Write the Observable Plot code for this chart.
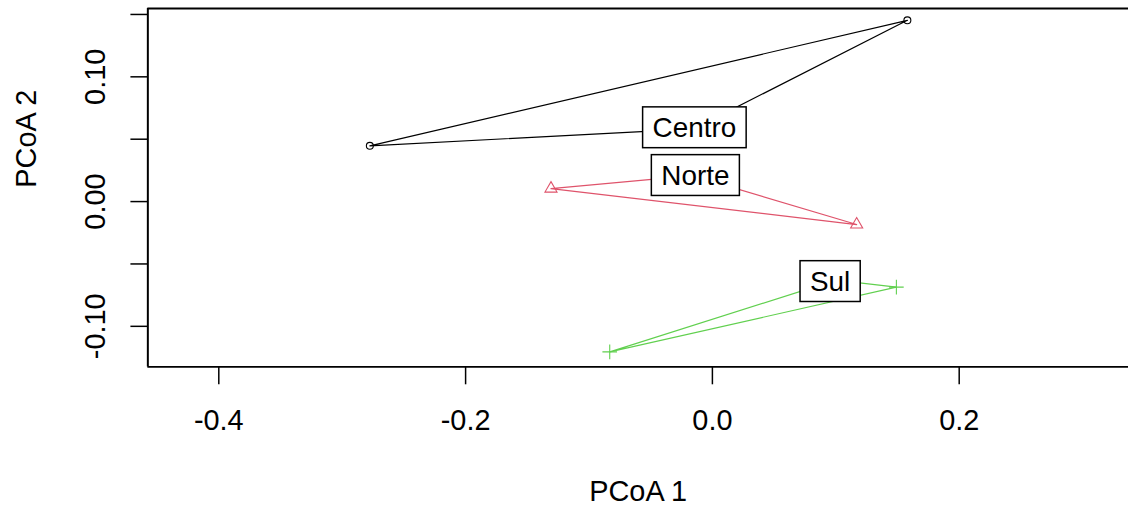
<!DOCTYPE html>
<html><head><meta charset="utf-8">
<script src="https://cdn.jsdelivr.net/npm/d3@7"></script>
<script src="https://cdn.jsdelivr.net/npm/@observablehq/plot@0.6"></script>
<style>
html,body{margin:0;padding:0;background:#fff;overflow:hidden;}
</style></head><body><div id="chart"></div>
<script>
// ---- data ----
const groups = ["Centro", "Norte", "Sul"];
const siteGroup = ["Centro", "Centro", "Centro", "Norte", "Norte", "Norte", "Sul", "Sul", "Sul"];
const siteX = [-0.2776, 0.1580, -0.0150, -0.1308, 0.1169, -0.0162, -0.0832, 0.1491, 0.1000];
const siteY = [0.0447, 0.1453, 0.0583, 0.0104, -0.0184, 0.0208, -0.1205, -0.0686, -0.0630];
const labelX = [-0.0146, -0.0138, 0.0954];
const labelY = [0.0591, 0.0208, -0.0642];
const xTicks = [-0.4, -0.2, 0.0, 0.2];
const xTickLabels = ["-0.4", "-0.2", "0.0", "0.2"];
const yTicks = [-0.10, -0.05, 0.00, 0.05, 0.10, 0.15];
const yTickLabels = ["-0.10", "", "0.00", "", "0.10", ""];
const xDomain = [-0.4575, 0.3372];
const yDomain = [-0.1325, 0.1548];
const xTitle = "PCoA 1";
const yTitle = "PCoA 2";

// ---- styles ----
const groupColors = ["#000000", "#DF536B", "#61D04F"];
const groupSymbols = ["circle", "triangle", "plus"];
const groupR = [3.5, 4.5, 4.8];
const font = "'Liberation Sans',Arial,sans-serif";

// ---- tables ----
const sites = siteX.map((x, i) => ({group: siteGroup[i], x, y: siteY[i]}));
const hullRows = groups.flatMap(g => {
  const pts = sites.filter(d => d.group === g).map(d => [d.x, d.y]);
  const hull = d3.polygonHull(pts);
  return hull.concat([hull[0]]).map(([x, y]) => ({group: g, x, y}));
});
const labels = groups.map((g, i) => ({group: g, x: labelX[i], y: labelY[i]}));

const plot = Plot.plot({
  width: 1134, height: 510,
  marginLeft: 148, marginRight: 1, marginTop: 8, marginBottom: 142,
  style: {fontFamily: font, fontSize: "29px", color: "#000", background: "#fff"},
  x: {domain: xDomain},
  y: {domain: yDomain},
  color: {domain: groups, range: groupColors},
  marks: [
    Plot.line(hullRows, {x: "x", y: "y", z: "group", stroke: "group", strokeWidth: 1.2}),
    ...groups.map((g, i) => Plot.dot(sites.filter(d => d.group === g),
      {x: "x", y: "y", symbol: groupSymbols[i], stroke: groupColors[i], r: groupR[i], strokeWidth: 1.1})),
    Plot.text(labels, {x: "x", y: "y", text: "group", fontSize: 28, fill: "#000", lineAnchor: "middle"}),
    Plot.ruleY([yDomain[0], yDomain[1]], {stroke: "#000", strokeWidth: 2}),
    Plot.ruleX([xDomain[0]], {stroke: "#000", strokeWidth: 2}),
    Plot.axisX(xTicks, {tickSize: 18, tickPadding: 25, strokeWidth: 1.5, fontSize: 29,
      tickFormat: d => xTickLabels[xTicks.indexOf(d)], label: null}),
    Plot.axisY(yTicks, {tickSize: 17, tickPadding: 26, strokeWidth: 1.5, fontSize: 29,
      tickRotate: -90, textAnchor: "middle", lineAnchor: "bottom",
      tickFormat: d => yTickLabels[yTicks.indexOf(d)], label: null}),
    Plot.text([xTitle], {text: d => d, frameAnchor: "bottom", dy: 135, lineAnchor: "bottom", fontSize: 29}),
    Plot.text([yTitle], {text: d => d, frameAnchor: "left", dx: -112, rotate: -90, lineAnchor: "bottom", fontSize: 29})
  ]
});
document.getElementById("chart").appendChild(plot);

// label boxes behind the group names
plot.querySelectorAll("text").forEach(t => {
  if (!groups.includes(t.textContent)) return;
  const b = t.getBBox();
  const rect = document.createElementNS("http://www.w3.org/2000/svg", "rect");
  const h = 41;
  rect.setAttribute("x", b.x - 10);
  rect.setAttribute("y", b.y + b.height / 2 - h / 2);
  rect.setAttribute("width", b.width + 20);
  rect.setAttribute("height", h);
  rect.setAttribute("fill", "#fff");
  rect.setAttribute("stroke", "#000");
  rect.setAttribute("stroke-width", 1.5);
  const tr = t.getAttribute("transform");
  if (tr) rect.setAttribute("transform", tr);
  t.parentNode.insertBefore(rect, t);
});
</script>
</body></html>
